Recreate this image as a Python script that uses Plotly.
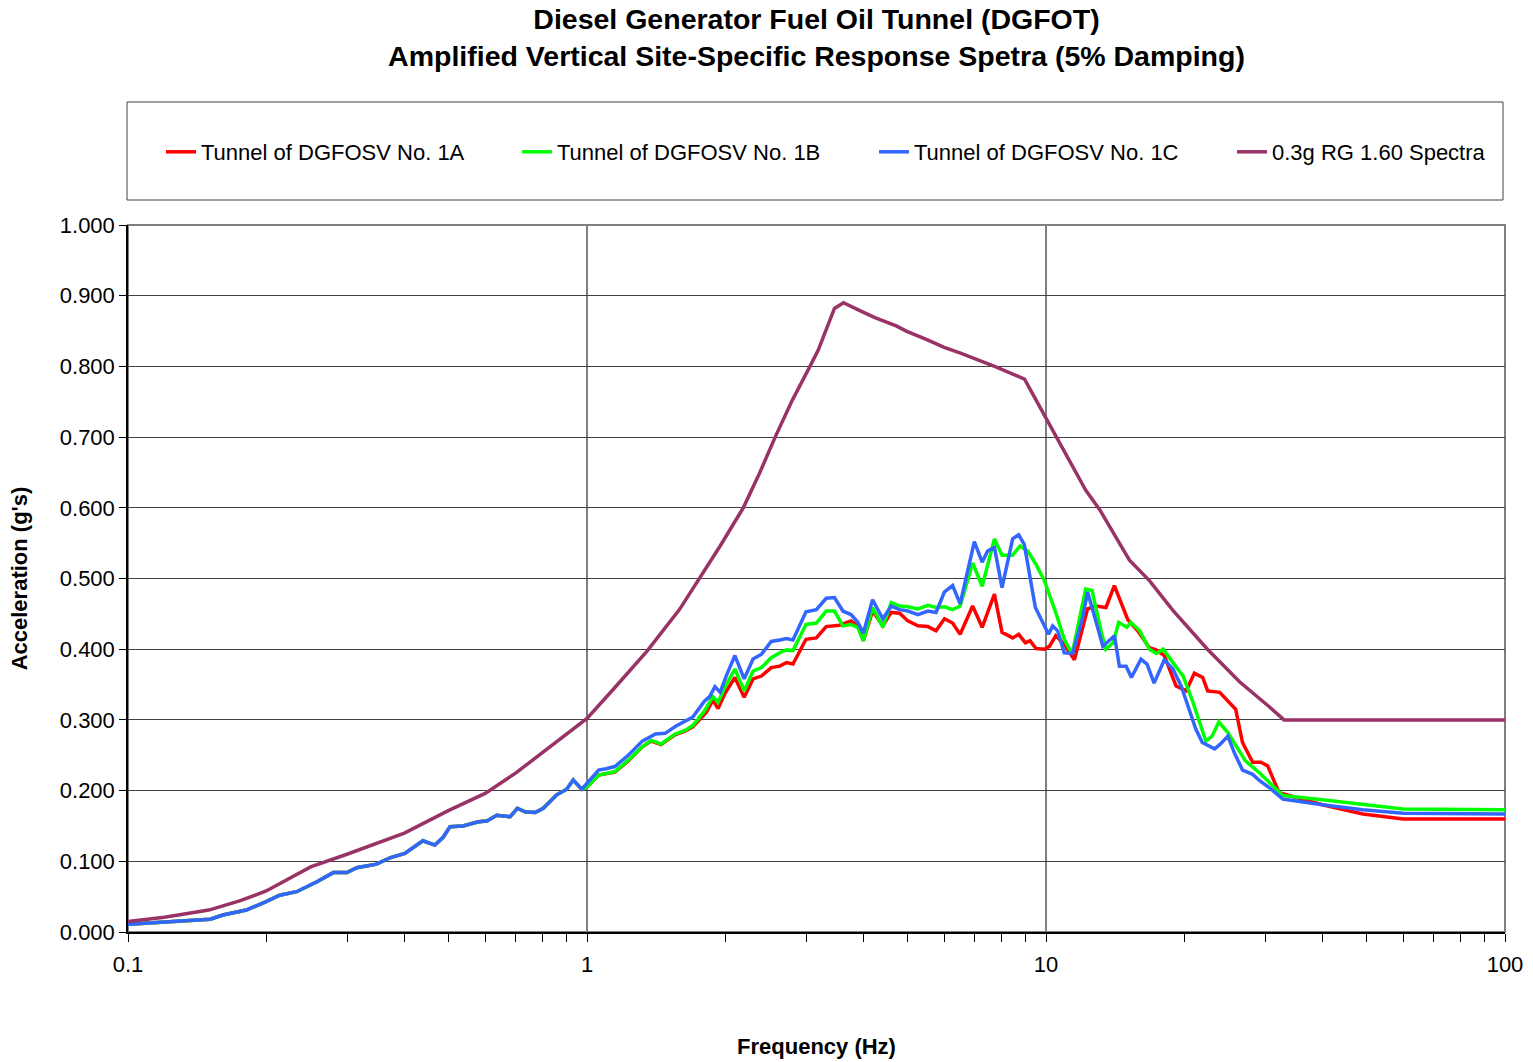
import plotly.graph_objects as go

# ---------------- data ----------------
# common low-frequency segment shared by the three tunnel spectra
freq_low = [0.10, 0.123, 0.151, 0.161, 0.181, 0.200, 0.214, 0.233, 0.258, 0.280,
            0.300, 0.315, 0.348, 0.372, 0.401, 0.439, 0.466, 0.486, 0.503, 0.537,
            0.580, 0.605, 0.636, 0.680, 0.705, 0.733, 0.771, 0.803, 0.859, 0.903,
            0.933, 0.974]
accel_low = [0.011, 0.015, 0.018, 0.024, 0.031, 0.043, 0.052, 0.057, 0.071, 0.084,
             0.084, 0.091, 0.096, 0.105, 0.111, 0.129, 0.123, 0.134, 0.149, 0.150,
             0.156, 0.157, 0.165, 0.163, 0.175, 0.170, 0.169, 0.175, 0.194, 0.202,
             0.215, 0.202]

freq_1a = [1.00, 1.06, 1.15, 1.23, 1.32, 1.38, 1.45, 1.555, 1.634, 1.70, 1.82, 1.88,
           1.93, 2.00, 2.10, 2.20, 2.30, 2.40, 2.52, 2.63, 2.72, 2.81, 3.00, 3.16,
           3.32, 3.55, 3.76, 3.89, 4.00, 4.19, 4.41, 4.60, 4.80, 5.00, 5.26, 5.53,
           5.76, 6.01, 6.26, 6.50, 6.92, 7.26, 7.72, 8.02, 8.46, 8.72, 9.02, 9.23,
           9.51, 9.92, 10.17, 10.5, 10.96, 11.53, 12.32, 12.85, 13.51, 14.09, 15.07,
           15.84, 16.8, 17.37, 18.1, 19.2, 20.2, 21.05, 21.95, 22.5, 23.9, 25.9,
           26.8, 28.2, 29.4, 30.4, 32.2, 40.0, 49.0, 60.0, 100.0]
accel_1a = [0.205, 0.222, 0.226, 0.242, 0.262, 0.270, 0.265, 0.279, 0.284, 0.290, 0.311,
            0.328, 0.316, 0.338, 0.360, 0.332, 0.358, 0.362, 0.374, 0.376, 0.381, 0.379,
            0.414, 0.416, 0.432, 0.434, 0.440, 0.433, 0.412, 0.454, 0.433, 0.452, 0.451,
            0.440, 0.433, 0.432, 0.426, 0.443, 0.437, 0.421, 0.461, 0.431, 0.478, 0.424,
            0.416, 0.421, 0.409, 0.412, 0.401, 0.400, 0.404, 0.419, 0.407, 0.385, 0.457,
            0.461, 0.459, 0.490, 0.442, 0.426, 0.402, 0.399, 0.391, 0.348, 0.341, 0.366,
            0.360, 0.341, 0.339, 0.315, 0.268, 0.240, 0.240, 0.235, 0.197, 0.180, 0.167,
            0.160, 0.160]

freq_1b = [1.00, 1.06, 1.15, 1.23, 1.32, 1.38, 1.45, 1.555, 1.634, 1.70, 1.80, 1.88,
           1.93, 2.00, 2.10, 2.20, 2.30, 2.40, 2.52, 2.63, 2.72, 2.81, 3.00, 3.16,
           3.32, 3.46, 3.61, 3.76, 3.89, 4.00, 4.19, 4.41, 4.60, 4.80, 5.00, 5.26,
           5.53, 5.76, 6.01, 6.26, 6.50, 6.92, 7.26, 7.72, 8.02, 8.46, 8.78, 9.12,
           9.51, 9.92, 10.5, 10.96, 11.4, 12.2, 12.6, 13.2, 13.5, 14.0, 14.4, 15.0,
           15.3, 16.0, 16.8, 17.4, 18.0, 18.9, 19.9, 20.9, 22.3, 23.0, 23.8, 24.9,
           26.3, 27.2, 29.2, 30.7, 32.8, 40.0, 49.0, 60.0, 100.0]
accel_1b = [0.205, 0.222, 0.227, 0.243, 0.262, 0.271, 0.266, 0.280, 0.285, 0.292, 0.312,
            0.333, 0.325, 0.347, 0.372, 0.341, 0.369, 0.374, 0.388, 0.395, 0.399, 0.398,
            0.435, 0.437, 0.454, 0.454, 0.433, 0.435, 0.431, 0.412, 0.459, 0.431, 0.466,
            0.461, 0.460, 0.457, 0.462, 0.459, 0.460, 0.456, 0.461, 0.522, 0.489, 0.556,
            0.533, 0.533, 0.546, 0.539, 0.520, 0.497, 0.452, 0.414, 0.393, 0.485, 0.483,
            0.424, 0.400, 0.409, 0.438, 0.431, 0.438, 0.426, 0.400, 0.394, 0.400, 0.381,
            0.362, 0.325, 0.270, 0.277, 0.297, 0.282, 0.258, 0.242, 0.225, 0.211, 0.193,
            0.187, 0.180, 0.174, 0.173]

freq_1c = [1.00, 1.06, 1.10, 1.15, 1.23, 1.32, 1.41, 1.48, 1.56, 1.63, 1.70, 1.80,
           1.85, 1.90, 1.95, 2.01, 2.10, 2.20, 2.30, 2.40, 2.52, 2.63, 2.72, 2.81,
           3.00, 3.16, 3.32, 3.46, 3.61, 3.76, 3.89, 4.00, 4.19, 4.41, 4.60, 4.80,
           5.00, 5.26, 5.53, 5.76, 6.01, 6.26, 6.50, 6.98, 7.26, 7.46, 7.72, 8.02,
           8.46, 8.72, 8.97, 9.48, 9.87, 10.13, 10.34, 10.60, 10.96, 11.43, 12.02,
           12.32, 12.75, 13.3, 14.1, 14.45, 14.95, 15.35, 16.1, 16.6, 17.2, 18.1,
           18.9, 19.7, 20.5, 21.2, 21.9, 23.3, 24.0, 24.9, 25.7, 26.8, 28.2, 29.2,
           30.7, 32.8, 40.0, 49.0, 60.0, 100.0]
accel_1c = [0.210, 0.229, 0.231, 0.234, 0.250, 0.270, 0.280, 0.281, 0.291, 0.297, 0.304,
            0.326, 0.333, 0.347, 0.339, 0.362, 0.391, 0.358, 0.386, 0.393, 0.411, 0.413,
            0.415, 0.413, 0.453, 0.456, 0.472, 0.473, 0.454, 0.449, 0.438, 0.423, 0.470,
            0.443, 0.461, 0.456, 0.454, 0.449, 0.454, 0.452, 0.481, 0.490, 0.464, 0.552,
            0.523, 0.539, 0.544, 0.487, 0.556, 0.562, 0.548, 0.459, 0.435, 0.421, 0.433,
            0.426, 0.395, 0.394, 0.445, 0.481, 0.447, 0.404, 0.419, 0.376, 0.376, 0.360,
            0.386, 0.379, 0.352, 0.385, 0.372, 0.348, 0.315, 0.287, 0.268, 0.259, 0.266,
            0.277, 0.254, 0.229, 0.223, 0.214, 0.204, 0.188, 0.180, 0.173, 0.168, 0.167]

freq_rg = [0.10, 0.12, 0.15, 0.175, 0.20, 0.25, 0.30, 0.40, 0.50, 0.60, 0.70, 0.80,
           0.90, 1.00, 1.14, 1.35, 1.59, 1.76, 1.95, 2.19, 2.38, 2.57, 2.80, 3.06,
           3.19, 3.46, 3.62, 3.93, 4.24, 4.73, 4.96, 5.50, 6.00, 6.49, 7.19, 7.80,
           8.98, 10.0, 12.2, 13.1, 15.2, 16.8, 18.9, 22.4, 26.4, 30.6, 33.0, 100.0]
accel_rg = [0.015, 0.021, 0.031, 0.044, 0.058, 0.092, 0.110, 0.140, 0.172, 0.196, 0.225,
            0.254, 0.279, 0.302, 0.343, 0.397, 0.456, 0.500, 0.546, 0.600, 0.650, 0.700,
            0.752, 0.800, 0.823, 0.882, 0.890, 0.879, 0.869, 0.857, 0.850, 0.838, 0.827,
            0.819, 0.808, 0.799, 0.782, 0.727, 0.625, 0.597, 0.526, 0.497, 0.455, 0.401,
            0.354, 0.319, 0.300, 0.300]

series_names = ["Tunnel of DGFOSV No. 1A", "Tunnel of DGFOSV No. 1B",
                "Tunnel of DGFOSV No. 1C", "0.3g RG 1.60 Spectra"]
x_tick_vals = [0.1, 1, 10, 100]
x_tick_text = ["0.1", "1", "10", "100"]
x_minor_vals = [0.2, 0.3, 0.4, 0.5, 0.6, 0.7, 0.8, 0.9,
                2, 3, 4, 5, 6, 7, 8, 9, 20, 30, 40, 50, 60, 70, 80, 90]

# ---------------- figure ----------------
FONT = "Liberation Sans, Arial, Helvetica, sans-serif"
colors = ["#FF0000", "#00FF00", "#3366FF", "#993366"]
xs = [freq_low + freq_1a, freq_low + freq_1b, freq_low + freq_1c, freq_rg]
ys = [accel_low + accel_1a, accel_low + accel_1b, accel_low + accel_1c, accel_rg]
legend_ids = ["legend", "legend2", "legend3", "legend4"]
legend_px = [161, 517, 874, 1232]   # left edge of each legend entry (pixels)

L, R, T, B = 128, 28, 225, 130
W, H = 1533, 1062
pw = W - L - R
ph = H - T - B

fig = go.Figure()
for name, c, x, y, lg in zip(series_names, colors, xs, ys, legend_ids):
    fig.add_trace(go.Scatter(x=x, y=y, mode="lines", name=name, legend=lg,
                             line=dict(color=c, width=3.5)))

legend_style = dict(bgcolor="rgba(0,0,0,0)", borderwidth=0, orientation="h",
                    xanchor="left", yanchor="middle", y=(H - B - 152) / ph,
                    font=dict(family=FONT, size=22, color="black"))
legend_layout = {lg: dict(legend_style, x=(px - L) / pw)
                 for lg, px in zip(legend_ids, legend_px)}

fig.update_layout(
    width=W, height=H,
    margin=dict(l=L, r=R, t=T, b=B, autoexpand=False),
    paper_bgcolor="white", plot_bgcolor="white",
    font=dict(family=FONT, size=22, color="black"),
    title=dict(
        text="<b>Diesel Generator Fuel Oil Tunnel (DGFOT)<br>"
             "Amplified Vertical Site-Specific Response Spetra (5% Damping)</b>",
        x=(L + pw / 2) / W, xanchor="center",
        y=1 - 29 / H, yanchor="middle",
        font=dict(family=FONT, size=28.5, color="black")),
    showlegend=True,
    shapes=[
        dict(type="rect", xref="paper", yref="paper",
             x0=(127 - L) / pw, x1=(1503 - L) / pw,
             y0=(H - B - 200) / ph, y1=(H - B - 102) / ph,
             line=dict(color="#404040", width=1), fillcolor="rgba(0,0,0,0)"),
        dict(type="rect", xref="paper", yref="paper", x0=0, x1=1, y0=0, y1=1,
             line=dict(color="#808080", width=2), fillcolor="rgba(0,0,0,0)",
             layer="below"),
    ],
    **legend_layout,
)

fig.update_xaxes(
    type="log", range=[-1, 2],
    tickvals=x_tick_vals, ticktext=x_tick_text,
    ticks="outside", ticklen=8, tickcolor="black", tickwidth=1,
    ticklabelstandoff=4,
    minor=dict(tickvals=x_minor_vals, ticks="outside", ticklen=8,
               tickcolor="black", tickwidth=1, showgrid=False),
    showgrid=True, gridcolor="#808080", gridwidth=1.5,
    showline=True, linecolor="black", linewidth=1.5,
    zeroline=False,
    tickfont=dict(family=FONT, size=22, color="black"),
    title=dict(text="<b>Frequency (Hz)</b>", standoff=62,
               font=dict(family=FONT, size=22, color="black")),
)
fig.update_yaxes(
    range=[0, 1], dtick=0.1, tick0=0, tickformat=".3f",
    ticks="outside", ticklen=7, tickcolor="black", tickwidth=1,
    showgrid=True, gridcolor="#404040", gridwidth=1,
    showline=True, linecolor="black", linewidth=1.5,
    zeroline=False,
    tickfont=dict(family=FONT, size=22, color="black"),
    title=dict(text="<b>Acceleration (g's)</b>", standoff=26,
               font=dict(family=FONT, size=22, color="black")),
)

fig.write_html("out.html", config={"displayModeBar": False},
               post_script="document.body.style.margin='0';")
